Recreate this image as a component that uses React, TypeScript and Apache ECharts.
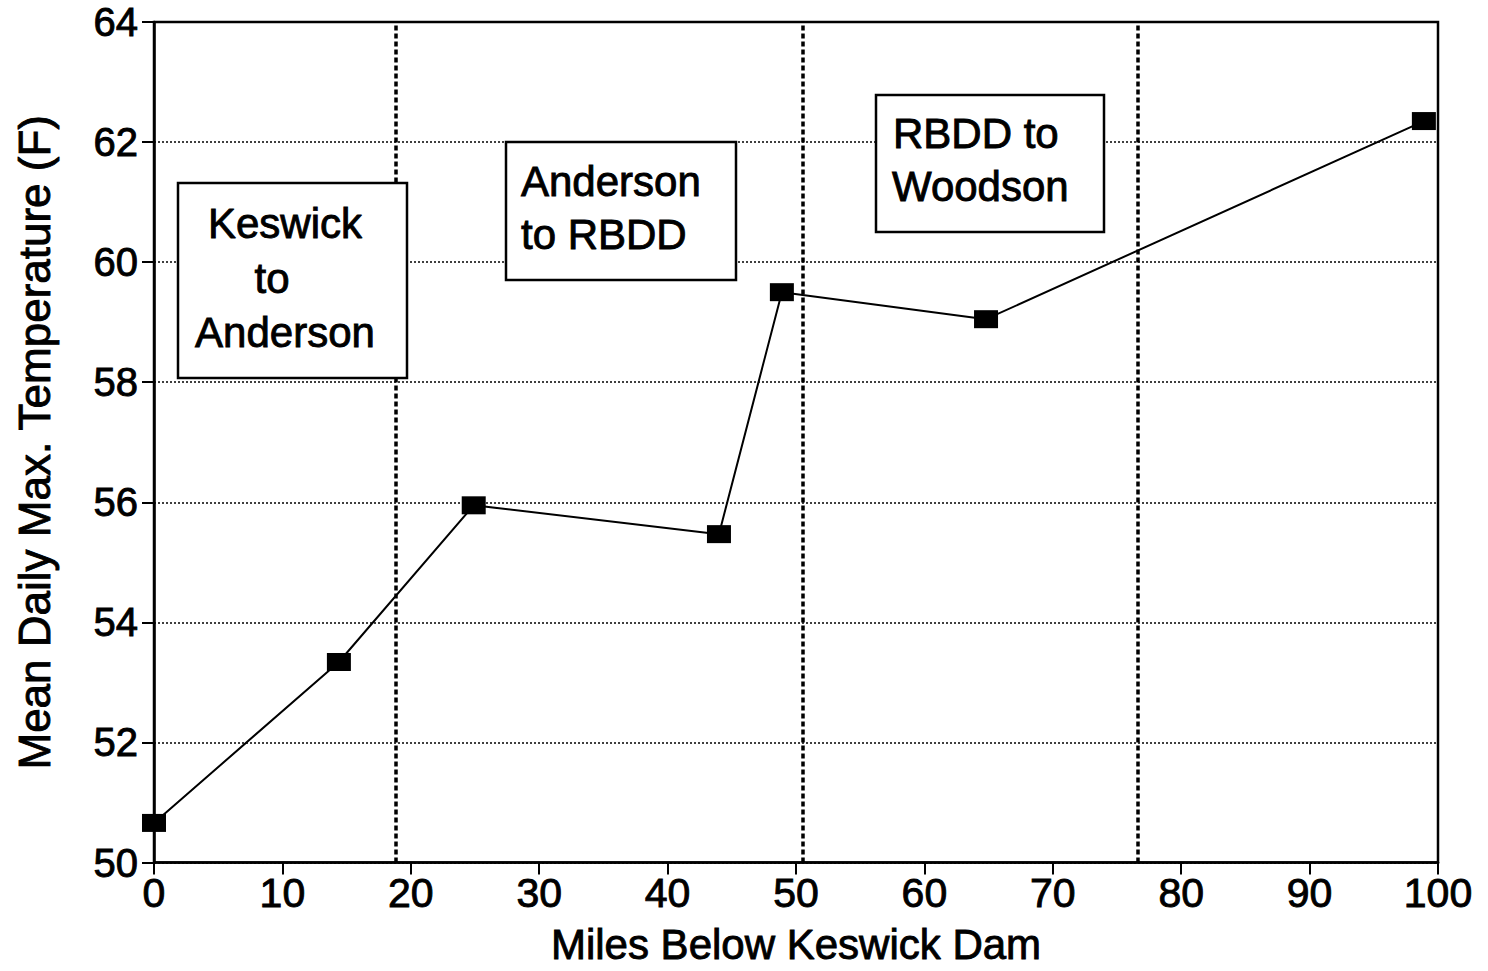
import React, { useEffect, useRef } from "react";
import * as echarts from "echarts";

// River mile below Keswick Dam and mean daily maximum water temperature (F)
const miles = [0, 14.4, 24.9, 44.0, 48.9, 64.8, 98.9];
const meanMaxTemp = [50.66, 53.34, 55.95, 55.47, 59.5, 59.05, 62.35];

// Reach boundaries (river miles): Anderson, RBDD, Woodson
const reachBounds = [18.8, 50.5, 76.6];

const xTicks = { min: 0, max: 100, interval: 10 };
const yTicks = { min: 50, max: 64, interval: 2 };

const FONT = '"Liberation Sans", Arial, Helvetica, sans-serif';
// a thin outline in the text colour gives the heavier print look
const heavy = { textBorderColor: "#000", textBorderWidth: 0.9 };

export default function App() {
  const ref = useRef<HTMLDivElement>(null);

  useEffect(() => {
    if (!ref.current) return;
    const chart = echarts.init(ref.current, null, { renderer: "svg" });

    const boxText = (text: string, x: number, y: number, align = "left") => ({
      type: "text",
      z: 101,
      style: {
        text,
        x,
        y,
        fill: "#000",
        stroke: "#000",
        lineWidth: 0.9,
        fontSize: 42,
        fontFamily: FONT,
        align,
        verticalAlign: "middle",
      },
    });
    const box = (x: number, y: number, w: number, h: number) => ({
      type: "rect",
      z: 100,
      shape: { x, y, width: w, height: h },
      style: { fill: "#fff", stroke: "#000", lineWidth: 2.5 },
    });

    chart.setOption({
      animation: false,
      backgroundColor: "#fff",
      grid: {
        left: 154,
        right: 50,
        top: 22,
        bottom: 104,
        show: true,
        borderColor: "#000",
        borderWidth: 2.5,
        backgroundColor: "transparent",
      },
      xAxis: {
        type: "value",
        min: xTicks.min,
        max: xTicks.max,
        interval: xTicks.interval,
        name: "Miles Below Keswick Dam",
        nameLocation: "middle",
        nameGap: 61,
        nameTextStyle: { fontSize: 42, fontFamily: FONT, color: "#000", ...heavy },
        axisLine: { show: true, lineStyle: { color: "#000", width: 2.5 } },
        axisTick: { show: true, length: 12, lineStyle: { color: "#000", width: 2 } },
        axisLabel: { fontSize: 41, fontFamily: FONT, color: "#000", margin: 10, ...heavy },
        splitLine: { show: false },
      },
      yAxis: {
        type: "value",
        min: yTicks.min,
        max: yTicks.max,
        interval: yTicks.interval,
        name: "Mean Daily Max. Temperature (F)",
        nameLocation: "middle",
        nameGap: 98,
        nameTextStyle: { fontSize: 44, fontFamily: FONT, color: "#000", ...heavy },
        axisLine: { show: true, lineStyle: { color: "#000", width: 2.5 } },
        axisTick: { show: true, length: 12, lineStyle: { color: "#000", width: 2 } },
        axisLabel: { fontSize: 40, fontFamily: FONT, color: "#000", margin: 16, ...heavy },
        splitLine: {
          show: true,
          lineStyle: { color: "#000", width: 1.5, type: [2, 2] },
        },
      },
      series: [
        {
          type: "line",
          data: miles.map((m, i) => [m, meanMaxTemp[i]]),
          symbol: "rect",
          symbolSize: [24, 18],
          showSymbol: true,
          itemStyle: { color: "#000" },
          lineStyle: { color: "#000", width: 2 },
          z: 5,
          markLine: {
            silent: true,
            symbol: "none",
            label: { show: false },
            lineStyle: { color: "#000", width: 3.5, type: [5, 3] },
            data: reachBounds.map((x) => ({ xAxis: x })),
          },
        },
      ],
      graphic: [
        box(178, 183, 229, 195),
        boxText("Keswick", 285, 223, "center"),
        boxText("to", 272, 278, "center"),
        boxText("Anderson", 285, 332, "center"),
        box(506, 142, 230, 138),
        boxText("Anderson", 521, 181),
        boxText("to RBDD", 521, 234),
        box(876, 95, 228, 137),
        boxText("RBDD to", 893, 133),
        boxText("Woodson", 892, 186),
      ],
    });

    return () => chart.dispose();
  }, []);

  return (
    <div
      ref={ref}
      style={{ position: "fixed", left: 0, top: 0, width: 1488, height: 971, background: "#fff" }}
    />
  );
}
